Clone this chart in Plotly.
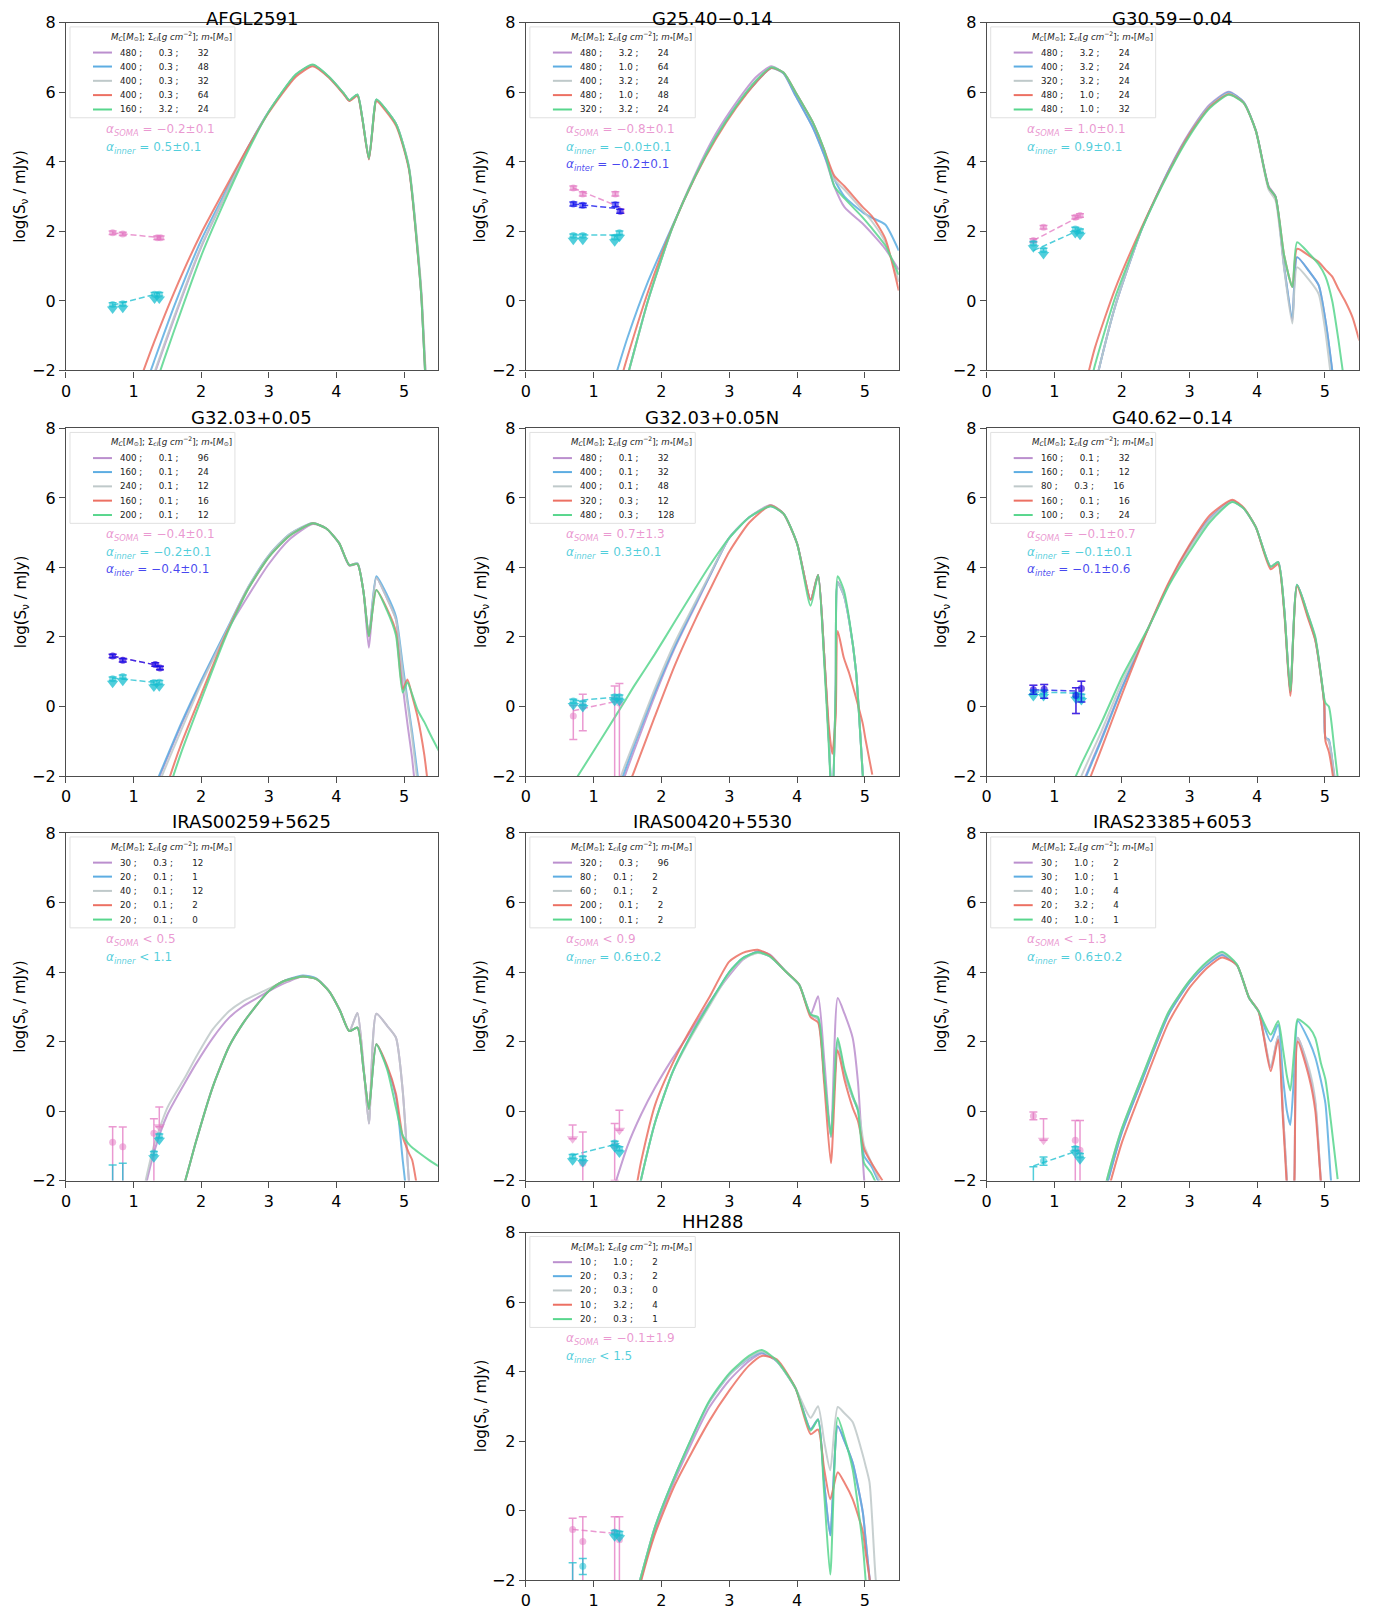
import plotly.graph_objects as go

FIG_W, FIG_H = 1374, 1613
# target pixel boxes of the panels in the final picture
COL_PX = [(63, 435), (523, 896), (984, 1356)]
ROW_PX = [(22, 370), (428, 776), (833, 1181), (1233, 1581)]
TITLE_LIFT = [4.0, 11, 11, 11]
POSITIONS = [(0, 0), (0, 1), (0, 2), (1, 0), (1, 1), (1, 2), (2, 0), (2, 1), (2, 2), (3, 1)]
# measured placement of the plotly paper inside the photographed page
PAPER_X0, PAPER_W = 2.0, 1369.4
PAPER_Y0, PAPER_H = 8.1, 1595.8

NAMES = ["AFGL2591", "G25.40\u22120.14", "G30.59\u22120.04", "G32.03+0.05", "G32.03+0.05N",
         "G40.62\u22120.14", "IRAS00259+5625", "IRAS00420+5530", "IRAS23385+6053", "HH288"]

CURVE_COLORS = ["#BB8FCE", "#5DADE2", "#BFC9CA", "#EC7063", "#58D68D"]
SOMA_C = "rgba(227,119,194,0.75)"
INNER_C = "rgba(23,190,207,0.75)"
INTER_C = "rgba(10,10,235,0.75)"

X_TICKS = [0, 1, 2, 3, 4, 5]
Y_TICKS = [-2, 0, 2, 4, 6, 8]
Y_TICKTEXT = ["\u22122", "0", "2", "4", "6", "8"]

# ---------------- AFGL2591 ----------------
p1_x = [1.1, 1.3, 1.6, 2.0, 2.4, 2.7, 3.0, 3.4, 3.65, 3.89, 4.11, 4.19, 4.31, 4.38, 4.48, 4.56, 4.59, 4.88, 5.07, 5.2, 5.26, 5.31, 5.4]
p1_y = [
    [-3.3, -2.15, -0.5, 1.55, 3.22, 4.42, 5.45, 6.5, 6.79, 6.44, 5.96, 5.77, 5.93, 5.29, 4.09, 5.5, 5.79, 5.1, 3.85, 1.5, 0.1, -1.8, -4.5],
    [-2.85, -1.75, -0.15, 1.75, 3.3, 4.45, 5.45, 6.5, 6.78, 6.44, 5.96, 5.77, 5.93, 5.29, 4.09, 5.5, 5.79, 5.1, 3.85, 1.45, 0.0, -2.0, -4.5],
    [-3.25, -2.1, -0.45, 1.58, 3.23, 4.42, 5.45, 6.5, 6.79, 6.44, 5.96, 5.77, 5.93, 5.29, 4.09, 5.5, 5.79, 5.1, 3.9, 1.6, 0.2, -1.7, -4.5],
    [-2.25, -1.2, 0.25, 1.95, 3.4, 4.45, 5.42, 6.45, 6.75, 6.42, 5.94, 5.75, 5.9, 5.27, 4.07, 5.45, 5.75, 5.05, 3.8, 1.4, 0.0, -2.0, -4.5],
    [-3.8, -2.55, -0.85, 1.3, 3.1, 4.35, 5.45, 6.52, 6.8, 6.45, 5.97, 5.78, 5.94, 5.3, 4.1, 5.5, 5.8, 5.1, 3.85, 1.45, 0.0, -2.0, -4.5],
]
p1_leg = [("480", "0.3", "32"), ("400", "0.3", "48"), ("400", "0.3", "32"), ("400", "0.3", "64"), ("160", "3.2", "24")]
p1_alpha = [("soma", "= \u22120.2\u00b10.1"), ("inner", "= 0.5\u00b10.1")]
p1_soma = dict(x=[0.69, 0.84, 1.35, 1.40], y=[1.96, 1.93, 1.82, 1.82], eu=[0.05] * 4, el=[0.05] * 4, lim=[0, 0, 0, 0])
p1_inner = dict(x=[0.69, 0.84, 1.31, 1.38], y=[-0.1, -0.08, 0.19, 0.19], eu=[0.05] * 4, el=[0.05] * 4, lim=[1, 1, 1, 1])
p1_inter = None
p1_fits = [("soma", [0.69, 1.40], [1.96, 1.82]), ("inner", [0.69, 1.38], [-0.12, 0.22])]

# ---------------- G25.40-0.14 ----------------
p2_x = [1.3, 1.5, 1.8, 2.16, 2.5, 2.8, 3.1, 3.4, 3.62, 3.8, 3.98, 4.23, 4.4, 4.55, 4.7, 4.97, 5.1, 5.3, 5.5]
p2_y = [
    [-3.5, -2.15, 0.0, 2.1, 3.65, 4.8, 5.7, 6.45, 6.75, 6.55, 5.9, 5.0, 4.2, 3.3, 2.7, 2.22, 1.95, 1.5, 0.9],
    [-2.3, -1.05, 0.55, 2.15, 3.6, 4.7, 5.6, 6.3, 6.7, 6.55, 5.9, 5.0, 4.2, 3.5, 3.0, 2.55, 2.4, 2.2, 1.45],
    [-3.5, -2.15, 0.0, 2.1, 3.6, 4.7, 5.6, 6.35, 6.72, 6.57, 6.0, 5.15, 4.35, 3.5, 3.2, 2.6, 2.3, 1.7, 0.55],
    [-2.95, -1.6, 0.25, 2.12, 3.58, 4.65, 5.55, 6.3, 6.7, 6.57, 6.0, 5.15, 4.35, 3.6, 3.3, 2.7, 2.45, 1.8, 0.3],
    [-3.5, -2.15, 0.0, 2.1, 3.6, 4.7, 5.6, 6.35, 6.72, 6.57, 6.0, 5.15, 4.35, 3.3, 2.95, 2.4, 2.1, 1.6, 0.75],
]
p2_leg = [("480", "3.2", "24"), ("480", "1.0", "64"), ("400", "3.2", "24"), ("480", "1.0", "48"), ("320", "3.2", "24")]
p2_alpha = [("soma", "= \u22120.8\u00b10.1"), ("inner", "= \u22120.0\u00b10.1"), ("inter", "= \u22120.2\u00b10.1")]
p2_soma = dict(x=[0.70, 0.84, 1.32, 1.40], y=[3.25, 3.08, 3.08, 2.58], eu=[0.06] * 4, el=[0.06] * 4, lim=[0, 0, 0, 0])
p2_inner = dict(x=[0.70, 0.84, 1.31, 1.38], y=[1.88, 1.88, 1.83, 1.96], eu=[0.05] * 4, el=[0.05] * 4, lim=[1, 1, 1, 1])
p2_inter = dict(x=[0.70, 0.84, 1.32, 1.39], y=[2.79, 2.75, 2.77, 2.58], eu=[0.06] * 4, el=[0.06] * 4, lim=[0, 0, 0, 0])
p2_fits = [("soma", [0.70, 1.40], [3.25, 2.69]), ("inner", [0.70, 1.40], [1.9, 1.9]), ("inter", [0.70, 1.40], [2.79, 2.65])]

# ---------------- G30.59-0.04 ----------------
p3_x = [1.45, 1.6, 1.9, 2.3, 2.7, 3.0, 3.3, 3.58, 3.8, 3.98, 4.17, 4.27, 4.4, 4.52, 4.59, 4.77, 4.91, 5.01, 5.11, 5.2, 5.3, 5.41, 5.51]
p3_y = [
    [-3.8, -2.45, -0.15, 2.1, 3.8, 4.85, 5.65, 6.02, 5.72, 4.9, 3.3, 3.02, 0.97, -0.56, 1.26, 0.85, 0.45, -0.56, -2.0, -3.5, -5, -6, -7],
    [-3.8, -2.45, -0.15, 2.1, 3.78, 4.82, 5.62, 6.0, 5.72, 4.9, 3.27, 3.0, 0.97, -0.5, 1.26, 0.85, 0.45, -0.56, -2.0, -3.5, -5, -6, -7],
    [-3.8, -2.45, -0.15, 2.1, 3.75, 4.8, 5.6, 5.97, 5.7, 4.88, 3.2, 2.9, 0.9, -0.65, 0.97, 0.6, 0.2, -0.9, -2.5, -4, -5, -6, -7],
    [-2.5, -1.35, 0.35, 2.15, 3.75, 4.8, 5.58, 5.95, 5.7, 4.9, 3.27, 3.0, 1.3, 0.4, 1.5, 1.3, 1.12, 0.9, 0.7, 0.35, 0.0, -0.47, -1.14],
    [-3.1, -1.85, 0.1, 2.1, 3.72, 4.75, 5.55, 5.93, 5.7, 4.9, 3.27, 3.0, 1.3, 0.4, 1.69, 1.36, 1.05, 0.7, 0.0, -1.1, -2.5, -4, -5],
]
p3_leg = [("480", "3.2", "24"), ("400", "3.2", "24"), ("320", "3.2", "24"), ("480", "1.0", "24"), ("480", "1.0", "32")]
p3_alpha = [("soma", "= 1.0\u00b10.1"), ("inner", "= 0.9\u00b10.1")]
p3_soma = dict(x=[0.69, 0.84, 1.31, 1.38], y=[1.74, 2.12, 2.41, 2.46], eu=[0.05] * 4, el=[0.05] * 4, lim=[0, 0, 0, 0])
p3_inner = dict(x=[0.69, 0.84, 1.31, 1.38], y=[1.66, 1.47, 2.07, 2.02], eu=[0.05] * 4, el=[0.05] * 4, lim=[1, 1, 1, 1])
p3_inter = None
p3_fits = [("soma", [0.69, 1.38], [1.74, 2.44]), ("inner", [0.69, 1.38], [1.45, 2.05])]

# ---------------- G32.03+0.05 ----------------
p4_x = [1.3, 1.45, 1.7, 2.0, 2.36, 2.7, 3.0, 3.3, 3.65, 3.85, 4.04, 4.19, 4.31, 4.4, 4.48, 4.59, 4.75, 4.88, 4.98, 5.05, 5.12, 5.2, 5.3, 5.4, 5.52]
p4_y = [
    [-2.4, -1.7, -0.55, 0.7, 2.1, 3.2, 4.1, 4.8, 5.25, 5.12, 4.69, 4.05, 4.1, 3.3, 1.69, 3.7, 3.1, 2.5, 0.6, -0.5, -1.5, -3.0, -4.5, -6, -7],
    [-2.35, -1.65, -0.5, 0.75, 2.15, 3.45, 4.35, 4.95, 5.28, 5.12, 4.7, 4.07, 4.12, 3.3, 2.05, 3.75, 3.2, 2.59, 1.2, 0.2, -0.74, -1.96, -3.5, -5, -6],
    [-2.6, -1.85, -0.7, 0.65, 2.1, 3.45, 4.35, 4.95, 5.28, 5.12, 4.7, 4.07, 4.12, 3.3, 2.05, 3.7, 3.1, 2.5, 1.0, 0.1, -0.9, -2.2, -3.8, -5, -6],
    [-3.6, -2.55, -1.1, 0.35, 2.05, 3.4, 4.3, 4.9, 5.27, 5.12, 4.7, 4.07, 4.1, 3.3, 2.02, 3.35, 2.8, 2.15, 0.5, 0.78, 0.3, -0.3, -1.4, -3.0, -4.5],
    [-3.9, -2.85, -1.35, 0.2, 2.0, 3.4, 4.3, 4.9, 5.27, 5.12, 4.7, 4.07, 4.1, 3.3, 2.02, 3.35, 2.75, 2.05, 0.4, 0.7, 0.35, -0.1, -0.45, -0.85, -1.3],
]
p4_leg = [("400", "0.1", "96"), ("160", "0.1", "24"), ("240", "0.1", "12"), ("160", "0.1", "16"), ("200", "0.1", "12")]
p4_alpha = [("soma", "= \u22120.4\u00b10.1"), ("inner", "= \u22120.2\u00b10.1"), ("inter", "= \u22120.4\u00b10.1")]
p4_soma = dict(x=[0.69, 0.84, 1.32, 1.39], y=[1.45, 1.33, 1.21, 1.11], eu=[0.05] * 4, el=[0.05] * 4, lim=[0, 0, 0, 0])
p4_inner = dict(x=[0.69, 0.84, 1.30, 1.38], y=[0.80, 0.86, 0.69, 0.70], eu=[0.05] * 4, el=[0.05] * 4, lim=[1, 1, 1, 1])
p4_inter = dict(x=[0.69, 0.84, 1.32, 1.39], y=[1.45, 1.33, 1.21, 1.11], eu=[0.05] * 4, el=[0.05] * 4, lim=[0, 0, 0, 0])
p4_fits = [("soma", [0.69, 1.39], [1.45, 1.17]), ("inner", [0.69, 1.38], [0.82, 0.68]), ("inter", [0.69, 1.39], [1.45, 1.17])]

# ---------------- G32.03+0.05N ----------------
p5_x = [0.75, 1.0, 1.35, 1.45, 1.6, 1.9, 2.2, 2.5, 2.7, 3.0, 3.3, 3.61, 3.8, 4.0, 4.2, 4.31, 4.4, 4.47, 4.52, 4.57, 4.6, 4.69, 4.77, 4.87, 4.97, 5.01, 5.11]
p5_y = [
    [-6, -5, -2.6, -2.05, -1.25, 0.3, 1.7, 2.9, 3.7, 4.85, 5.45, 5.8, 5.55, 4.69, 3.07, 3.78, 1.5, -1.0, -3.0, 0.5, 3.59, 3.2, 2.45, 1.02, -1.96, -3, -5],
    [-6, -5, -2.45, -1.9, -1.1, 0.4, 1.75, 2.95, 3.72, 4.85, 5.45, 5.76, 5.55, 4.69, 3.07, 3.78, 1.5, -1.0, -3.0, 0.5, 3.55, 3.2, 2.45, 1.02, -1.96, -3, -5],
    [-6, -4.2, -2.3, -1.75, -1.0, 0.5, 1.85, 3.0, 3.75, 4.85, 5.45, 5.78, 5.55, 4.69, 3.07, 3.78, 1.5, -1.0, -3.0, 0.5, 3.55, 3.2, 2.45, 1.02, -1.96, -3, -5],
    [-7, -6, -3.2, -2.6, -1.85, -0.3, 1.2, 2.5, 3.3, 4.45, 5.3, 5.78, 5.55, 4.69, 3.07, 3.78, 1.5, -0.6, -1.36, -0.3, 2.17, 1.4, 0.95, 0.25, -0.5, -0.95, -1.96],
    [-2.05, -1.28, -0.19, 0.12, 0.6, 1.5, 2.45, 3.4, 4.02, 4.85, 5.45, 5.76, 5.55, 4.69, 2.9, 3.78, 1.3, -1.2, -3.0, 0.5, 3.75, 3.35, 2.5, 1.0, -2.0, -3, -5],
]
p5_leg = [("480", "0.1", "32"), ("400", "0.1", "32"), ("400", "0.1", "48"), ("320", "0.3", "12"), ("480", "0.3", "128")]
p5_alpha = [("soma", "= 0.7\u00b11.3"), ("inner", "= 0.3\u00b10.1")]
p5_soma = dict(x=[0.70, 0.84, 1.31, 1.38], y=[-0.27, 0.0, 0.2, 0.1], eu=[0.3, 0.35, 0.39, 0.56], el=[0.68, 0.7, 3.0, 3.0], lim=[0, 0, 0, 0])
p5_inner = dict(x=[0.70, 0.84, 1.31, 1.38], y=[0.16, 0.1, 0.28, 0.28], eu=[0.05] * 4, el=[0.05] * 4, lim=[1, 1, 1, 1])
p5_inter = None
p5_fits = [("soma", [0.70, 1.38], [-0.12, 0.17]), ("inner", [0.70, 1.38], [0.16, 0.28])]

# ---------------- G40.62-0.14 ----------------
p6_x = [1.25, 1.4, 1.7, 2.0, 2.4, 2.7, 3.0, 3.3, 3.63, 3.8, 3.98, 4.2, 4.31, 4.4, 4.49, 4.59, 4.75, 4.86, 4.99, 5.01, 5.06, 5.14, 5.2]
p6_y = [
    [-3.1, -2.3, -0.9, 0.55, 2.3, 3.55, 4.6, 5.42, 5.92, 5.7, 5.16, 4.02, 4.16, 2.8, 0.4, 3.5, 2.65, 1.95, 0.15, -0.9, -1.0, -1.96, -3.0],
    [-3.15, -2.35, -0.95, 0.52, 2.3, 3.55, 4.6, 5.4, 5.9, 5.7, 5.16, 4.02, 4.16, 2.8, 0.4, 3.5, 2.6, 1.92, 0.12, -0.9, -0.95, -2.1, -3.0],
    [-2.75, -2.0, -0.7, 0.7, 2.3, 3.55, 4.55, 5.38, 5.9, 5.7, 5.16, 4.02, 4.16, 2.8, 0.4, 3.5, 2.6, 1.92, 0.12, -0.9, -1.0, -2.0, -3.0],
    [-3.5, -2.7, -1.2, 0.35, 2.3, 3.6, 4.65, 5.5, 5.95, 5.72, 5.16, 3.95, 4.1, 2.7, 0.3, 3.45, 2.55, 1.9, 0.1, -1.0, -1.3, -2.3, -3.5],
    [-2.3, -1.65, -0.45, 0.85, 2.3, 3.5, 4.45, 5.3, 5.88, 5.7, 5.16, 4.02, 4.16, 2.8, 0.45, 3.5, 2.65, 2.0, 0.25, 0.1, 0.0, -1.2, -2.2],
]
p6_leg = [("160", "0.1", "32"), ("160", "0.1", "12"), ("80", "0.3", "16"), ("160", "0.1", "16"), ("100", "0.3", "24")]
p6_alpha = [("soma", "= \u22120.1\u00b10.7"), ("inner", "= \u22120.1\u00b10.1"), ("inter", "= \u22120.1\u00b10.6")]
p6_soma = dict(x=[0.69, 0.85, 1.32, 1.40], y=[0.48, 0.5, 0.32, 0.52], eu=[0.13, 0.13, 0.22, 0.21], el=[0.13, 0.26, 0.52, 0.39], lim=[0, 0, 0, 0])
p6_inner = dict(x=[0.69, 0.84, 1.32, 1.40], y=[0.42, 0.42, 0.34, 0.30], eu=[0.05] * 4, el=[0.05] * 4, lim=[1, 1, 1, 1])
p6_inter = dict(x=[0.69, 0.85, 1.32, 1.40], y=[0.48, 0.5, 0.32, 0.52], eu=[0.13, 0.13, 0.22, 0.21], el=[0.13, 0.26, 0.52, 0.39], lim=[0, 0, 0, 0])
p6_fits = [("inner", [0.69, 1.40], [0.42, 0.38]), ("inter", [0.69, 1.40], [0.48, 0.44])]

# ---------------- IRAS00259+5625 ----------------
p7_x = [1.1, 1.3, 1.5, 1.77, 1.92, 2.17, 2.41, 2.61, 2.78, 3.0, 3.2, 3.5, 3.7, 3.89, 4.05, 4.19, 4.31, 4.4, 4.48, 4.59, 4.75, 4.88, 4.98, 5.07, 5.12, 5.22, 5.37, 5.52]
p7_y = [
    [-2.8, -1.2, -0.1, 0.85, 1.35, 2.1, 2.68, 3.0, 3.2, 3.45, 3.65, 3.87, 3.8, 3.45, 2.9, 2.3, 2.82, 1.3, -0.36, 2.8, 2.45, 2.11, 0.59, -1.96, -3, -4, -5, -6],
    [-6, -5, -3.6, -1.96, -0.9, 0.69, 1.85, 2.5, 2.95, 3.45, 3.72, 3.9, 3.82, 3.45, 2.9, 2.3, 2.4, 1.2, 0.06, 1.92, 1.25, 0.4, -1.41, -3, -4, -5, -6, -7],
    [-2.7, -1.0, 0.1, 1.0, 1.54, 2.35, 2.87, 3.15, 3.32, 3.52, 3.7, 3.87, 3.8, 3.45, 2.9, 2.3, 2.82, 1.3, -0.36, 2.8, 2.45, 2.11, 0.59, -1.96, -3, -4, -5, -6],
    [-6, -5, -3.6, -1.96, -0.9, 0.69, 1.85, 2.5, 2.95, 3.45, 3.72, 3.87, 3.8, 3.45, 2.9, 2.3, 2.4, 1.2, 0.06, 1.92, 1.3, 0.5, -0.74, -1.2, -1.41, -2.5, -4, -5],
    [-6, -5, -3.6, -1.96, -0.9, 0.69, 1.85, 2.5, 2.95, 3.45, 3.72, 3.87, 3.8, 3.45, 2.9, 2.3, 2.4, 1.2, 0.06, 1.92, 1.2, 0.1, -0.7, -0.95, -1.05, -1.2, -1.41, -1.6],
]
p7_leg = [("30", "0.3", "12"), ("20", "0.1", "1"), ("40", "0.1", "12"), ("20", "0.1", "2"), ("20", "0.1", "0")]
p7_alpha = [("soma", "< 0.5"), ("inner", "< 1.1")]
p7_soma = dict(x=[0.69, 0.84, 1.30, 1.38], y=[-0.9, -1.03, -0.64, -0.45], eu=[0.45, 0.57, 0.42, 0.57], el=[1.5, 1.5, 1.5, 0.0], lim=[0, 0, 0, 1])
p7_inner = dict(x=[0.69, 0.84, 1.30, 1.38], y=[-2.3, -2.3, -1.21, -0.71], eu=[0.75, 0.8, 0.05, 0.05], el=[0.5, 0.5, 0.05, 0.05], lim=[0, 0, 1, 1])
p7_inter = None
p7_fits = []

# ---------------- IRAS00420+5530 ----------------
p8_x = [1.3, 1.5, 1.7, 1.91, 2.16, 2.4, 2.7, 3.0, 3.2, 3.42, 3.6, 3.83, 4.03, 4.2, 4.31, 4.4, 4.5, 4.6, 4.7, 4.82, 4.9, 4.99, 5.1, 5.26]
p8_y = [
    [-2.2, -1.0, -0.1, 0.69, 1.5, 2.2, 3.1, 3.9, 4.35, 4.6, 4.5, 4.02, 3.64, 2.78, 3.3, 1.5, -0.74, 3.25, 2.8, 2.11, 0.8, -1.96, -4, -6],
    [-5, -3.8, -1.96, -0.3, 1.1, 2.05, 3.06, 4.0, 4.4, 4.57, 4.45, 4.02, 3.64, 2.78, 2.64, 1.0, -0.74, 2.0, 1.1, 0.4, 0.02, -1.3, -1.6, -2.3],
    [-5, -3.8, -1.96, -0.3, 1.1, 2.0, 3.0, 3.95, 4.37, 4.55, 4.45, 4.02, 3.64, 2.78, 2.64, 1.0, -0.74, 2.0, 1.1, 0.4, 0.1, -1.0, -1.5, -2.2],
    [-4.5, -3.5, -1.45, 0.2, 1.35, 2.25, 3.25, 4.3, 4.55, 4.64, 4.48, 4.02, 3.64, 2.7, 2.55, 0.8, -1.5, 1.75, 0.9, 0.1, -0.3, -1.1, -1.5, -2.0],
    [-5, -3.8, -1.96, -0.3, 1.1, 2.05, 3.06, 4.0, 4.4, 4.57, 4.45, 4.02, 3.64, 2.78, 2.7, 1.05, -0.7, 2.1, 1.2, 0.45, 0.0, -1.5, -1.8, -2.5],
]
p8_leg = [("320", "0.3", "96"), ("80", "0.1", "2"), ("60", "0.1", "2"), ("200", "0.1", "2"), ("100", "0.1", "2")]
p8_alpha = [("soma", "< 0.9"), ("inner", "= 0.6\u00b10.2")]
p8_soma = dict(x=[0.69, 0.84, 1.31, 1.38], y=[-0.8, -1.5, -1.0, -0.55], eu=[0.4, 0.9, 0.64, 0.57], el=[0.0, 1.0, 1.0, 0.0], lim=[1, 0, 0, 1])
p8_inner = dict(x=[0.69, 0.84, 1.31, 1.38], y=[-1.3, -1.35, -0.92, -1.08], eu=[0.05] * 4, el=[0.05] * 4, lim=[1, 1, 1, 1])
p8_inter = None
p8_fits = [("inner", [0.69, 1.38], [-1.27, -0.93])]

# ---------------- IRAS23385+6053 ----------------
p9_x = [1.7, 1.78, 2.0, 2.3, 2.69, 3.0, 3.25, 3.48, 3.7, 3.88, 4.02, 4.2, 4.31, 4.38, 4.44, 4.49, 4.55, 4.6, 4.77, 4.86, 4.94, 5.01, 5.09, 5.19]
p9_y = [
    [-2.7, -2.1, -0.6, 0.9, 2.78, 3.7, 4.2, 4.48, 4.2, 3.26, 2.87, 1.25, 2.15, 0.0, -2.0, -4.0, -2.0, 2.11, 1.1, 0.2, -1.96, -3.5, -5, -6],
    [-2.7, -2.1, -0.6, 0.9, 2.78, 3.7, 4.2, 4.5, 4.2, 3.26, 2.87, 2.0, 2.49, 1.0, 0.0, -0.4, 1.2, 2.59, 2.0, 1.54, 0.9, 0.21, -1.96, -4],
    [-2.6, -1.96, -0.5, 1.0, 2.85, 3.75, 4.25, 4.55, 4.2, 3.26, 2.87, 1.3, 2.15, 0.0, -2.0, -4.0, -2.0, 2.11, 1.2, 0.3, -1.96, -3.5, -5, -6],
    [-3.0, -2.4, -0.9, 0.65, 2.55, 3.55, 4.1, 4.42, 4.2, 3.26, 2.87, 1.15, 2.05, -0.2, -2.2, -4.0, -2.0, 2.0, 0.95, 0.0, -2.0, -3.5, -5, -6],
    [-2.6, -1.96, -0.5, 1.0, 2.85, 3.75, 4.28, 4.58, 4.22, 3.26, 2.87, 2.2, 2.59, 1.8, 1.0, 0.59, 1.8, 2.64, 2.4, 2.1, 1.4, 0.9, -0.3, -1.96],
]
p9_leg = [("30", "1.0", "2"), ("30", "1.0", "1"), ("40", "1.0", "4"), ("20", "3.2", "4"), ("40", "1.0", "1")]
p9_alpha = [("soma", "< \u22121.3"), ("inner", "= 0.6\u00b10.2")]
p9_soma = dict(x=[0.69, 0.84, 1.31, 1.38], y=[-0.14, -0.84, -0.84, -1.13], eu=[0.11, 0.62, 0.57, 0.86], el=[0.11, 0.0, 1.5, 1.5], lim=[0, 1, 0, 0])
p9_inner = dict(x=[0.69, 0.84, 1.31, 1.38], y=[-2.3, -1.44, -1.08, -1.27], eu=[0.7, 0.12, 0.05, 0.05], el=[0.5, 0.12, 0.05, 0.05], lim=[0, 0, 1, 1])
p9_inter = None
p9_fits = [("inner", [0.69, 1.38], [-1.58, -1.12])]

# ---------------- HH288 ----------------
p10_x = [1.6, 1.69, 1.9, 2.2, 2.7, 3.0, 3.29, 3.48, 3.7, 3.98, 4.2, 4.31, 4.4, 4.49, 4.6, 4.7, 4.82, 4.97, 5.01, 5.07, 5.16, 5.25]
p10_y = [
    [-2.8, -2.05, -0.6, 0.9, 2.95, 3.75, 4.3, 4.52, 4.3, 3.51, 2.34, 2.62, 0.8, -0.71, 2.43, 2.0, 1.38, -0.05, -0.8, -1.96, -3.5, -5],
    [-2.6, -1.96, -0.5, 1.0, 3.1, 3.9, 4.38, 4.55, 4.3, 3.51, 2.34, 2.62, 0.8, -0.71, 2.43, 2.0, 1.38, -0.05, -0.8, -1.96, -3.5, -5],
    [-2.6, -1.96, -0.5, 1.0, 3.1, 3.9, 4.4, 4.58, 4.3, 3.51, 2.67, 3.0, 2.0, 1.16, 2.98, 2.8, 2.55, 1.6, 1.3, 0.8, -1.96, -3.5],
    [-2.85, -2.1, -0.7, 0.75, 2.56, 3.45, 4.17, 4.45, 4.35, 3.51, 2.2, 2.33, 1.2, 0.33, 1.1, 0.8, 0.33, -0.6, -1.19, -1.96, -3.5, -5],
    [-2.5, -1.96, -0.5, 1.0, 3.14, 3.95, 4.45, 4.62, 4.32, 3.51, 2.3, 2.62, 0.5, -1.84, 2.67, 2.1, 1.19, -1.0, -1.96, -3.5, -5, -6],
]
p10_leg = [("10", "1.0", "2"), ("20", "0.3", "2"), ("20", "0.3", "0"), ("10", "3.2", "4"), ("20", "0.3", "1")]
p10_alpha = [("soma", "= \u22120.1\u00b11.9"), ("inner", "< 1.5")]
p10_soma = dict(x=[0.69, 0.84, 1.31, 1.38], y=[-0.54, -0.89, -0.62, -0.84], eu=[0.32, 0.71, 0.44, 0.66], el=[1.5, 1.5, 1.5, 1.5], lim=[0, 0, 0, 0])
p10_inner = dict(x=[0.69, 0.84, 1.31, 1.38], y=[-2.3, -1.6, -0.62, -0.65], eu=[0.8, 0.22, 0.05, 0.05], el=[0.5, 0.24, 0.05, 0.05], lim=[0, 0, 1, 1])
p10_inter = None
p10_fits = [("soma", [0.69, 1.38], [-0.54, -0.67])]

PANELS = [
    (p1_x, p1_y, p1_leg, p1_alpha, p1_soma, p1_inner, p1_inter, p1_fits),
    (p2_x, p2_y, p2_leg, p2_alpha, p2_soma, p2_inner, p2_inter, p2_fits),
    (p3_x, p3_y, p3_leg, p3_alpha, p3_soma, p3_inner, p3_inter, p3_fits),
    (p4_x, p4_y, p4_leg, p4_alpha, p4_soma, p4_inner, p4_inter, p4_fits),
    (p5_x, p5_y, p5_leg, p5_alpha, p5_soma, p5_inner, p5_inter, p5_fits),
    (p6_x, p6_y, p6_leg, p6_alpha, p6_soma, p6_inner, p6_inter, p6_fits),
    (p7_x, p7_y, p7_leg, p7_alpha, p7_soma, p7_inner, p7_inter, p7_fits),
    (p8_x, p8_y, p8_leg, p8_alpha, p8_soma, p8_inner, p8_inter, p8_fits),
    (p9_x, p9_y, p9_leg, p9_alpha, p9_soma, p9_inner, p9_inter, p9_fits),
    (p10_x, p10_y, p10_leg, p10_alpha, p10_soma, p10_inner, p10_inter, p10_fits),
]

SERIES_COLOR = {"soma": SOMA_C, "inner": INNER_C, "inter": INTER_C}
SERIES_SUB = {"soma": "SOMA", "inner": "inner", "inter": "inter"}

FONT = "DejaVu Sans, Liberation Sans, sans-serif"
PW, PH = 372.0, 348.0  # panel size in px


def dom_x(px):
    return (px - PAPER_X0) / PAPER_W


def dom_y(py):
    return 1 - (py - PAPER_Y0) / PAPER_H


fig = go.Figure()
layout = dict(width=FIG_W, height=FIG_H, margin=dict(l=0, r=0, t=0, b=0), autosize=False,
              paper_bgcolor="white", plot_bgcolor="white", showlegend=False,
              font=dict(family=FONT, size=16, color="black"))
shapes = []
annotations = []

AXIS_COMMON = dict(showline=True, mirror=True, linecolor="#4d4d4d", linewidth=1.3,
                   ticks="outside", ticklen=6, tickwidth=1.3, tickcolor="#4d4d4d",
                   showgrid=False, zeroline=False, tickfont=dict(family=FONT, size=16, color="black"))

for i, (r, c) in enumerate(POSITIONS):
    n = "" if i == 0 else str(i + 1)
    xa, ya = "x" + n, "y" + n
    x0, x1 = COL_PX[c]
    y0, y1 = ROW_PX[r]
    layout["xaxis" + n] = dict(domain=[dom_x(x0), dom_x(x1)], range=[0, 5.5], anchor=ya,
                               tickvals=X_TICKS, ticktext=[str(v) for v in X_TICKS], **AXIS_COMMON)
    layout["yaxis" + n] = dict(domain=[dom_y(y1), dom_y(y0)], range=[-2, 8], anchor=xa,
                               tickvals=Y_TICKS, ticktext=Y_TICKTEXT, **AXIS_COMMON)

    px_x, py_list, leg, alphas, soma, inner, inter, fits = PANELS[i]

    # model SED curves
    for k in range(5):
        fig.add_trace(go.Scatter(x=px_x, y=py_list[k], xaxis=xa, yaxis=ya, mode="lines",
                                 line=dict(color=CURVE_COLORS[k], width=2, shape="spline", smoothing=0.6),
                                 opacity=0.85, hoverinfo="skip"))

    # spectral-index fit lines
    for kind, fx, fy in fits:
        fig.add_trace(go.Scatter(x=fx, y=fy, xaxis=xa, yaxis=ya, mode="lines",
                                 line=dict(color=SERIES_COLOR[kind], width=1.5, dash="6px,3px"),
                                 hoverinfo="skip"))

    # data points
    for kind, s in (("soma", soma), ("inner", inner), ("inter", inter)):
        if s is None:
            continue
        col = SERIES_COLOR[kind]
        symbols = ["triangle-down" if (lm and kind == "soma") else "circle" for lm in s["lim"]]
        sizes = [10 if (lm and kind == "soma") else 7 for lm in s["lim"]]
        fig.add_trace(go.Scatter(x=s["x"], y=s["y"], xaxis=xa, yaxis=ya, mode="markers",
                                 marker=dict(color=col, symbol=symbols, size=sizes, line=dict(width=0)),
                                 error_y=dict(type="data", symmetric=False, array=s["eu"], arrayminus=s["el"],
                                              color=col, thickness=1.5, width=4),
                                 hoverinfo="skip"))
        if kind != "soma":
            tx = [xv for xv, lm in zip(s["x"], s["lim"]) if lm]
            ty = [yv - 0.13 for yv, lm in zip(s["y"], s["lim"]) if lm]
            if tx:
                fig.add_trace(go.Scatter(x=tx, y=ty, xaxis=xa, yaxis=ya, mode="markers",
                                         marker=dict(color=col, symbol="triangle-down", size=10, line=dict(width=0)),
                                         hoverinfo="skip"))

    xd, yd = xa + " domain", ya + " domain"
    # panel title
    annotations.append(dict(text=NAMES[i], xref=xd, yref=yd, x=0.5, y=1, xanchor="center", yanchor="middle",
                            yshift=TITLE_LIFT[r], showarrow=False, font=dict(family=FONT, size=18, color="black")))
    # y-axis title
    annotations.append(dict(text="log(S<sub>\u03bd</sub> / mJy)", xref=xd, yref=yd, x=0, y=0.5,
                            xanchor="center", yanchor="middle", xshift=-45, textangle=-90, showarrow=False,
                            font=dict(family=FONT, size=15, color="black")))
    # legend box
    shapes.append(dict(type="rect", xref=xd, yref=yd, x0=4 / PW, x1=169 / PW, y0=1 - 95 / PH, y1=1 - 4 / PH,
                       line=dict(color="#e0e0e0", width=1), fillcolor="rgba(255,255,255,0.8)", layer="below"))
    header = ("<i>M</i><sub><i>C</i></sub>[<i>M</i><sub>\u2299</sub>]; \u03a3<sub><i>cl</i></sub>"
              "[<i>g cm</i><sup>\u22122</sup>]; <i>m</i><sub>*</sub>[<i>M</i><sub>\u2299</sub>]")
    annotations.append(dict(text=header, xref=xd, yref=yd, x=43 / PW, y=1 - 13 / PH, xanchor="left",
                            yanchor="middle", showarrow=False, font=dict(family=FONT, size=8.7, color="#222")))
    row_y = [29.7, 43.7, 58.0, 72.3, 86.7]
    sp = "\u00a0" * 6
    for k, (mc, sg, ms) in enumerate(leg):
        yy = 1 - row_y[k] / PH
        shapes.append(dict(type="line", xref=xd, yref=yd, x0=27 / PW, x1=46 / PW, y0=yy, y1=yy,
                           line=dict(color=CURVE_COLORS[k], width=2)))
        annotations.append(dict(text=f"{mc}\u00a0;{sp}{sg}\u00a0;{sp}\u00a0{ms}", xref=xd, yref=yd,
                                x=52 / PW, y=yy, xanchor="left", yanchor="middle", showarrow=False,
                                font=dict(family=FONT, size=8.7, color="#222")))
    # spectral index labels
    a_y = [107, 125, 142]
    for k, (kind, txt) in enumerate(alphas):
        annotations.append(dict(text=f"<i>\u03b1</i><sub><i>{SERIES_SUB[kind]}</i></sub> {txt}",
                                xref=xd, yref=yd, x=38 / PW, y=1 - a_y[k] / PH, xanchor="left",
                                yanchor="middle", showarrow=False,
                                font=dict(family=FONT, size=12, color=SERIES_COLOR[kind])))

layout["shapes"] = shapes
layout["annotations"] = annotations
fig.update_layout(**layout)

PAGE_FIX = ("document.documentElement.style.margin='0px';document.documentElement.style.overflow='hidden';"
            "document.body.style.margin='0px';document.body.style.padding='0px';document.body.style.overflow='hidden';"
            "var gd=document.querySelector('.plotly-graph-div');"
            "if(gd){gd.style.position='fixed';gd.style.left='0px';gd.style.top='0px';}")
fig.write_html("out.html", config={"displayModeBar": False}, post_script=PAGE_FIX)
